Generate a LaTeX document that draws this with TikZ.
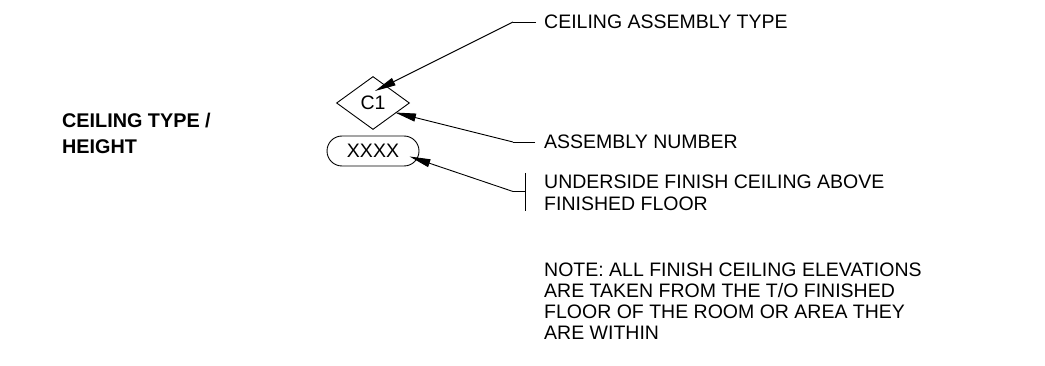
\documentclass[tikz,border=0pt]{standalone}
\usepackage{fontspec}
\setmainfont{Liberation Sans}
\usetikzlibrary{shapes.geometric,arrows.meta,positioning}

\begin{document}
\begin{tikzpicture}[x=1pt,y=-1pt,
  txt/.style={anchor=base west,inner sep=0pt,align=left,font=\fontsize{19.5}{22}\selectfont},
  lead/.style={line width=0.9pt,-{Triangle[length=21pt,width=8pt]}},
  tick/.style={line width=0.9pt}]
\useasboundingbox (0,0) rectangle (1045,366);

% title on the left (base = last line)
\node[txt,font=\fontsize{19.8}{26}\selectfont\bfseries] (title) at (62,154) {CEILING TYPE /\\HEIGHT};

% the two tags
\node[draw,diamond,line width=0.9pt,minimum width=73pt,minimum height=53pt,inner sep=0pt,font=\fontsize{19.5}{22}\selectfont] (ctype) at (373,103) {C1};
\node[draw,rectangle,line width=0.9pt,rounded corners=15pt,minimum width=92pt,minimum height=30pt,inner sep=0pt,font=\fontsize{19.5}{22}\selectfont] (cheight) at (373,151) {XXXX};

% labels
\node[txt] (asmtype) at (544,28.5) {CEILING ASSEMBLY TYPE};
\node[txt] (asmnum) at (544,149) {ASSEMBLY NUMBER};
\node[txt] (under) at (544,210.5) {UNDERSIDE FINISH CEILING ABOVE\\FINISHED FLOOR};
\node[txt,font=\fontsize{19.5}{21}\selectfont] (note) at (544,339.5) {NOTE: ALL FINISH CEILING ELEVATIONS\\ARE TAKEN FROM THE T/O FINISHED\\FLOOR OF THE ROOM OR AREA THEY\\ARE WITHIN};

% leader points
\coordinate (tip1) at (375,91);
\coordinate (tip2) at (395,112.5);
\coordinate (tip3) at (409.5,156.5);
\coordinate (k1) at (513,22);
\coordinate (e1) at (536,22);
\coordinate (k2) at (513,142);
\coordinate (e2) at (535,142);
\coordinate (k3) at (513,191.5);
\coordinate (e3) at (525,191.5);
\coordinate (b3a) at (525,173);
\coordinate (b3b) at (525,211);

% leaders
\draw[tick] (e1) -- (k1);
\draw[lead] (k1) -- (tip1);
\draw[tick] (e2) -- (k2);
\draw[lead] (k2) -- (tip2);
\draw[tick] (e3) -- (k3);
\draw[lead] (k3) -- (tip3);
\draw[tick] (b3a) -- (b3b);
\end{tikzpicture}
\end{document}
